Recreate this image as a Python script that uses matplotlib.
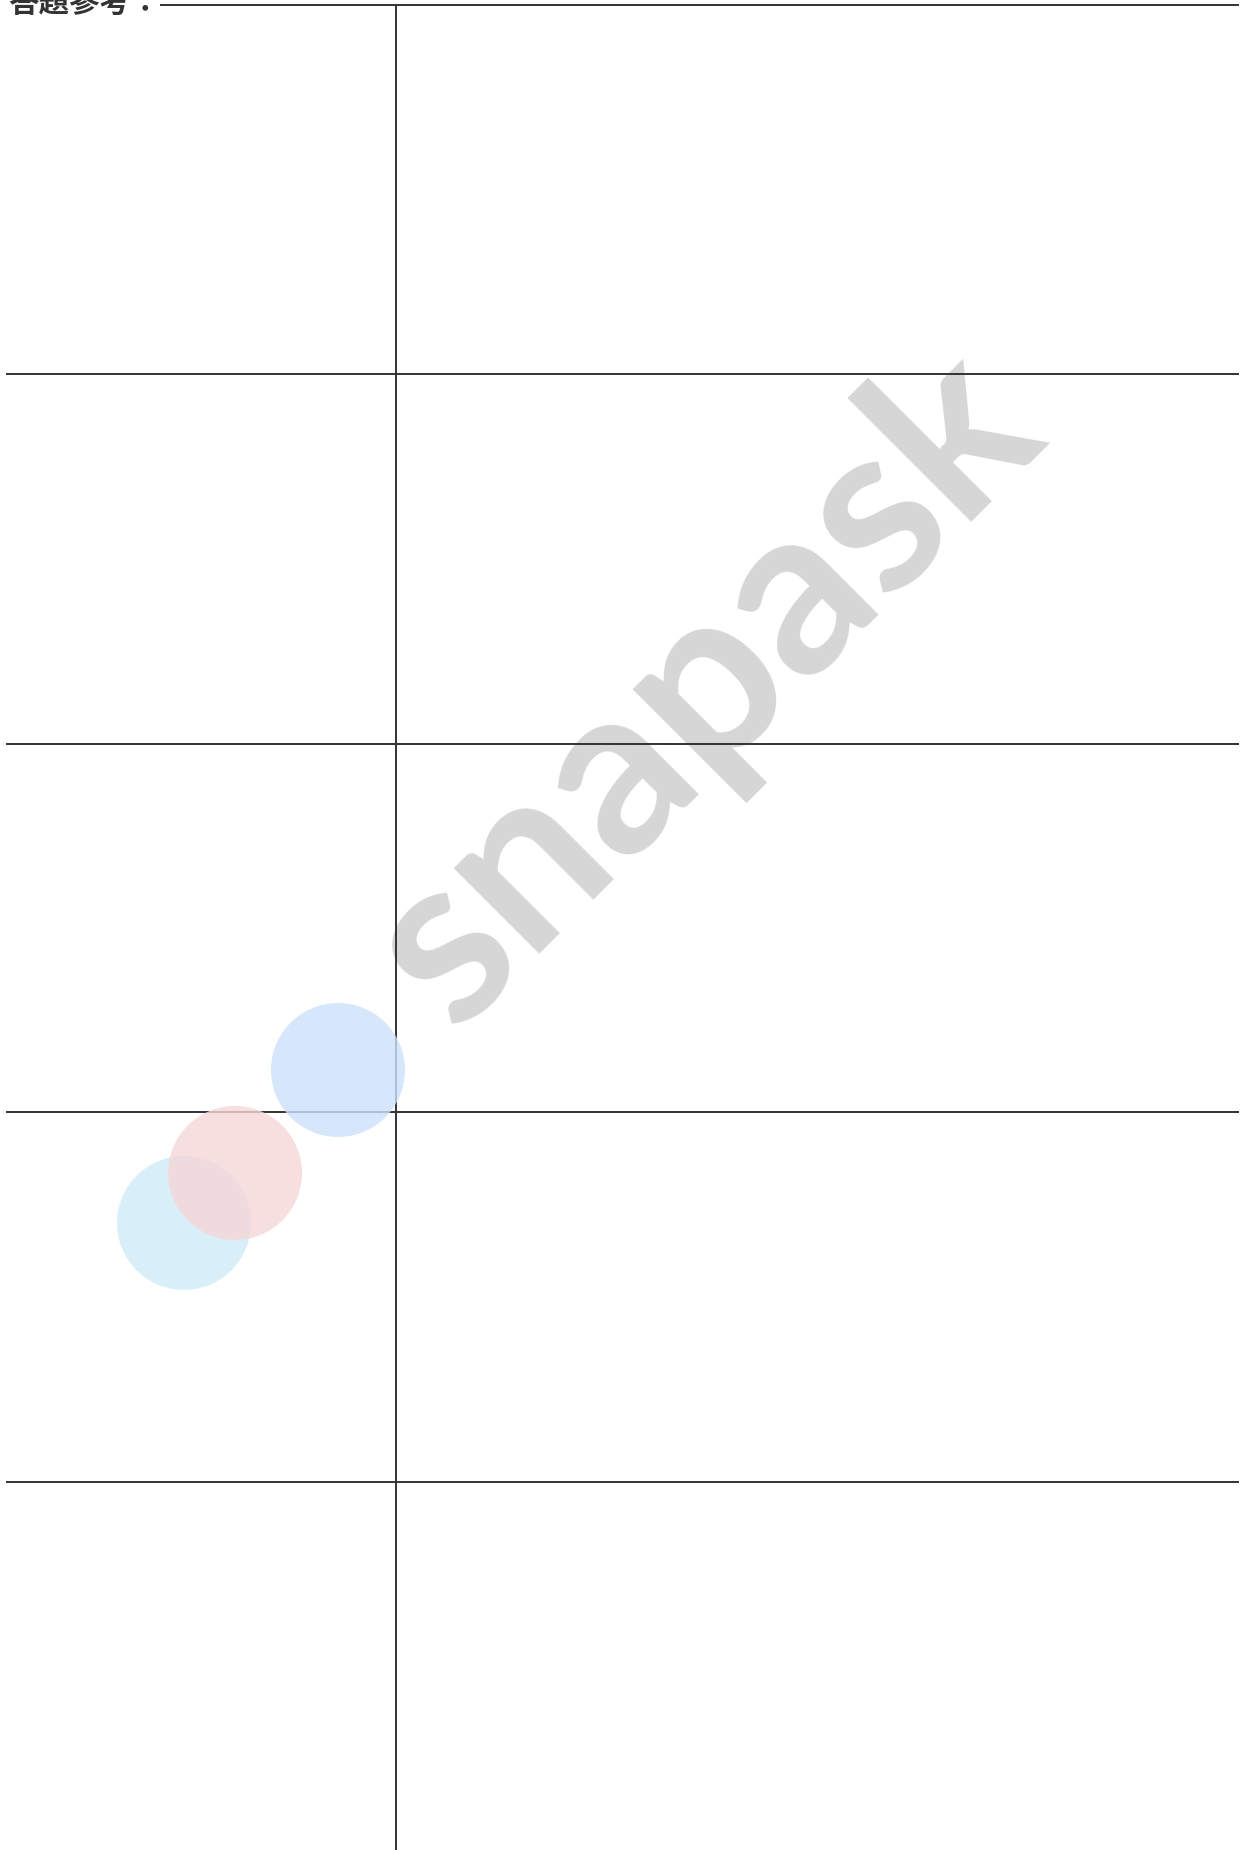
import matplotlib.pyplot as plt
from matplotlib.patches import Circle

# Table layout (pixel units of the 1243x1850 page)
page_w, page_h = 1243, 1850
row_edges = [374, 744, 1112, 1482]
col_edge = 396
top_edge = 5
left_edge, right_edge = 6, 1239
title_end = 160

title = '答題參考：'
watermark = 'snapask'

# decorative circles: (x, y, radius, colour)
circle_x = [184, 235, 338]
circle_y = [1223, 1173, 1070]
circle_r = [67, 67, 67]
circle_colors = ['#cfecf9', '#f6d7d8', '#cce1fa']

fig = plt.figure(figsize=(page_w / 100, page_h / 100), dpi=100)
ax = fig.add_axes([0, 0, 1, 1])
ax.set_xlim(0, page_w)
ax.set_ylim(page_h, 0)
ax.set_aspect('equal')
ax.axis('off')

line_kw = dict(color='#333333', lw=1.4, zorder=2)

# top border after the title, then row dividers
ax.hlines(top_edge, title_end, right_edge, **line_kw)
ax.hlines(row_edges, left_edge, right_edge, **line_kw)
ax.vlines(col_edge, top_edge, page_h, **line_kw)

# title (cut off at the top of the page)
ax.text(8, 19, title, fontsize=22, fontweight='bold', color='#333333',
        family=['Noto Sans CJK TC', 'DejaVu Sans'], va='bottom', ha='left',
        zorder=3)

# watermark
ax.text(704, 688, watermark, fontsize=170, fontweight='bold', color='#d6d6d6',
        family='Lato', rotation=45, rotation_mode='anchor',
        ha='center', va='center', zorder=1)

for x, y, r, c in zip(circle_x, circle_y, circle_r, circle_colors):
    ax.add_patch(Circle((x, y), r, facecolor=c, edgecolor='none', alpha=0.8, zorder=4))

fig.savefig('out.png', dpi=100)
